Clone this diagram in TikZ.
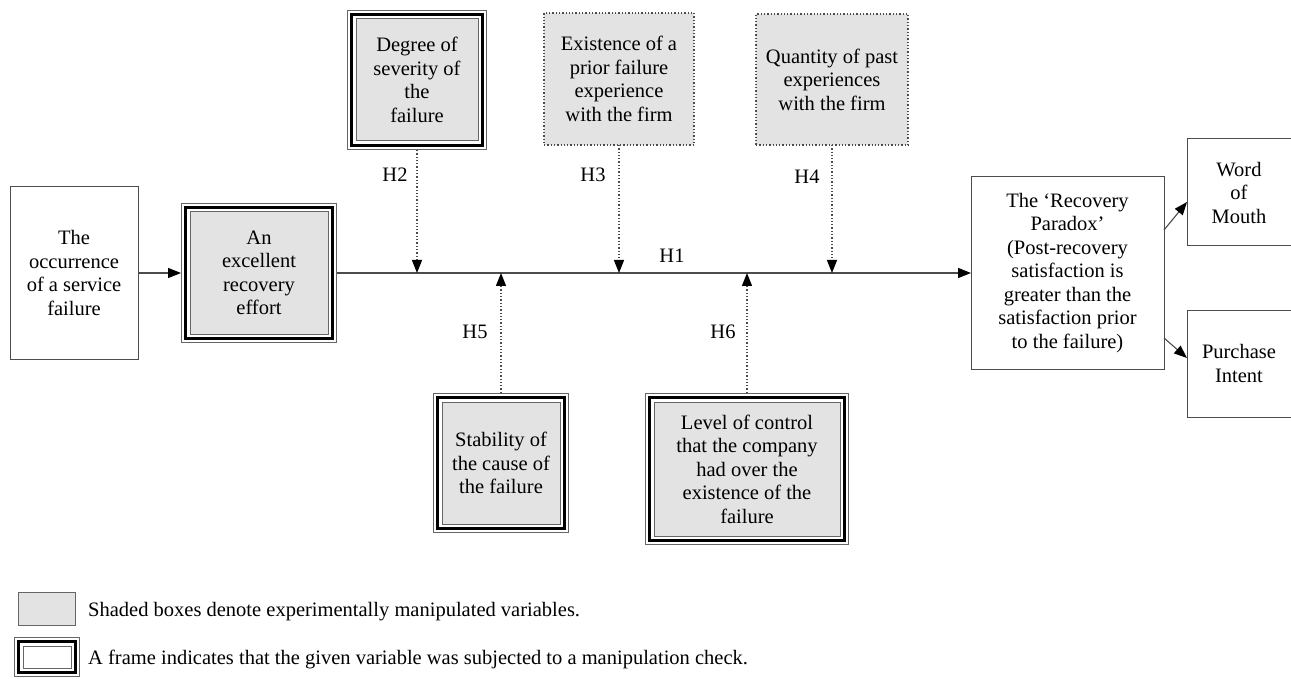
\documentclass[tikz,border=0pt]{standalone}
\usepackage{fontspec}
\setmainfont{Liberation Serif}
\usetikzlibrary{arrows.meta}
\newcommand\frameat[4]{%
  \fill[white] (#1,#2) rectangle (#3,#4);
  \draw[black!60, line width=0.9pt] (#1+0.5,#2+0.5) rectangle (#3-0.5,#4-0.5);
  \draw[black, line width=3.6pt] (#1+4.6,#2+4.6) rectangle (#3-4.6,#4-4.6);
}
\begin{document}
\begin{tikzpicture}[x=1pt,y=-1pt,
  txt/.style={font=\fontsize{20.5}{23.5}\selectfont, align=center, inner sep=0pt, outer sep=0pt},
  plainbox/.style={txt, draw=black!70, line width=1pt, fill=white},
  innerbox/.style={txt, draw=black!60, line width=1pt, fill=black!11},
  dotbox/.style={txt, draw=black!70, dotted, line width=1.3pt, fill=black!11},
  arr/.style={draw=black!70, line width=1.1pt, -{Triangle[length=13pt,width=10pt,color=black]}},
  dotarr/.style={draw=black!70, dotted, line width=1.3pt, -{Triangle[length=13pt,width=10pt,color=black]}},
  lab/.style={font=\fontsize{20.5}{23.5}\selectfont, inner sep=0pt}
]
\useasboundingbox (0,0) rectangle (1291,679);

% plain boxes
\node[plainbox, minimum width=128pt, minimum height=172pt] (occ) at (74,273) {The\\occurrence\\of a service\\failure};
\node[plainbox, minimum width=193pt, minimum height=192pt] (par) at (1067.5,273) {The ‘Recovery\\Paradox’\\(Post-recovery\\satisfaction is\\greater than the\\satisfaction prior\\to the failure)};
\node[plainbox, minimum width=104pt, minimum height=107pt] (wom) at (1239,192.5) {Word\\of\\Mouth};
\node[plainbox, minimum width=104pt, minimum height=107pt] (pi) at (1239,363.5) {Purchase\\Intent};

% framed boxes
\frameat{181}{203}{337}{343}
\node[innerbox, minimum width=138pt, minimum height=122pt] (rec) at (259,273) {An\\excellent\\recovery\\effort};
\frameat{347}{10}{487}{150}
\node[innerbox, minimum width=122pt, minimum height=122pt] (deg) at (417,80) {Degree of\\severity of\\the\\failure};
\frameat{433}{393}{569}{533}
\node[innerbox, minimum width=118pt, minimum height=122pt] (stab) at (501,463) {Stability of\\the cause of\\the failure};
\frameat{645}{393}{849}{545}
\node[innerbox, minimum width=186pt, minimum height=134pt] (lev) at (747,469) {Level of control\\that the company\\had over the\\existence of the\\failure};

% dotted boxes
\node[dotbox, minimum width=150pt, minimum height=132pt] (exi) at (619,79) {Existence of a\\prior failure\\experience\\with the firm};
\node[dotbox, minimum width=152pt, minimum height=131pt] (qua) at (832,79.5) {Quantity of past\\experiences\\with the firm};

% points on the main line
\coordinate (p2) at (417,273);
\coordinate (p3) at (619,273);
\coordinate (p4) at (832,273);
\coordinate (p5) at (501,273);
\coordinate (p6) at (747,273);

% connectors
\draw[arr] (occ.east) -- ([xshift=-9pt]rec.west);
\draw[arr] ([xshift=9pt]rec.east) -- (par.west);
\draw[arr] ([yshift=43pt]par.east) -- ([yshift=-9.5pt]wom.west);
\draw[arr] ([yshift=-65pt]par.east) -- ([yshift=5.5pt]pi.west);
\draw[dotarr] ([yshift=-9pt]deg.south) -- (p2);
\draw[dotarr] (exi.south) -- (p3);
\draw[dotarr] (qua.south) -- (p4);
\draw[dotarr] ([yshift=9pt]stab.north) -- (p5);
\draw[dotarr] ([yshift=9pt]lev.north) -- (p6);

% labels
\node[lab] (h1) at (672,256) {H1};
\node[lab] (h2) at (395,175) {H2};
\node[lab] (h3) at (593,175) {H3};
\node[lab] (h4) at (807,177) {H4};
\node[lab] (h5) at (475,332) {H5};
\node[lab] (h6) at (723,332) {H6};

% legend
\node[draw=black!60, line width=1pt, fill=black!11, minimum width=57pt, minimum height=33pt, inner sep=0pt] (lg1) at (46.5,608.5) {};
\frameat{14}{637}{80}{677}
\node[draw=black!60, line width=1pt, fill=white, minimum width=48pt, minimum height=22pt, inner sep=0pt] (lg2) at (47,657) {};
\node[lab, anchor=west] (t1) at (88,612) {Shaded boxes denote experimentally manipulated variables.};
\node[lab, anchor=west] (t2) at (88,659) {A frame indicates that the given variable was subjected to a manipulation check.};
\end{tikzpicture}
\end{document}
